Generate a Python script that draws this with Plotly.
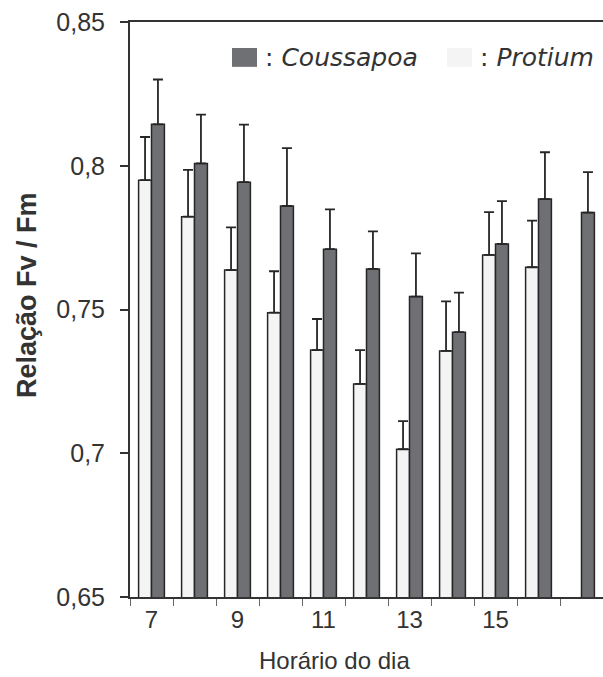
import plotly.graph_objects as go

hours = [7, 8, 9, 10, 11, 12, 13, 14, 15, 16, 17]
coussapoa = [0.8144, 0.8008, 0.7943, 0.7860, 0.7710, 0.7641, 0.7545, 0.7421, 0.7728, 0.7884, 0.7837]
coussapoa_err = [0.0156, 0.0170, 0.0200, 0.0201, 0.0138, 0.0131, 0.0150, 0.0138, 0.0149, 0.0163, 0.0141]
protium = [0.7950, 0.7823, 0.7637, 0.7489, 0.7359, 0.7241, 0.7014, 0.7356, 0.7690, 0.7647, None]
protium_err = [0.0150, 0.0163, 0.0149, 0.0144, 0.0108, 0.0118, 0.0098, 0.0172, 0.0149, 0.0162, 0]
tick_labels = ["7", "9", "11", "13", "15"]
tick_hours = [7, 9, 11, 13, 15]

line_col = "#262626"
txt_col = "#333333"
c_dark = "#6f7073"
c_light = "#f4f4f4"

fig = go.Figure()
fig.add_trace(go.Bar(
    x=hours, y=protium, name="Protium", showlegend=False,
    marker=dict(color=c_light, line=dict(color=line_col, width=1.5)),
    error_y=dict(type="data", symmetric=False, array=protium_err,
                 arrayminus=[0] * len(protium_err), color=line_col,
                 thickness=1.8, width=5),
))
fig.add_trace(go.Bar(
    x=hours, y=coussapoa, name="Coussapoa", showlegend=False,
    marker=dict(color=c_dark, line=dict(color=line_col, width=1.5)),
    error_y=dict(type="data", symmetric=False, array=coussapoa_err,
                 arrayminus=[0] * len(coussapoa_err), color=line_col,
                 thickness=1.8, width=5),
))

# legend drawn as key boxes + labels inside the plot area
legend_items = [(0.2156, 0.2685, c_dark, ": <i>Coussapoa</i>"),
                (0.6702, 0.7230, c_light, ": <i>Protium</i>")]
for x0, x1, col, label in legend_items:
    fig.add_shape(type="rect", xref="paper", yref="paper", x0=x0, x1=x1,
                  y0=0.922, y1=0.9548, fillcolor=col, line=dict(width=0))
    fig.add_annotation(xref="paper", yref="paper", x=x1 + 0.012, y=0.9385,
                       xanchor="left", yanchor="middle", showarrow=False,
                       text=label,
                       font=dict(family="DejaVu Sans", size=25, color=txt_col))

# axis titles
fig.add_annotation(xref="paper", yref="paper", x=0.433, y=-0.111,
                   xanchor="center", yanchor="middle", showarrow=False,
                   text="Horário do dia",
                   font=dict(family="Liberation Sans", size=24, color=txt_col))
fig.add_annotation(xref="paper", yref="paper", x=-0.218, y=0.525,
                   xanchor="center", yanchor="middle", showarrow=False,
                   textangle=-90, text="<b>Relação Fv / Fm</b>",
                   font=dict(family="Liberation Sans", size=27, color=txt_col))

fig.update_layout(
    width=603, height=677,
    margin=dict(l=130, r=0, t=22, b=80),
    paper_bgcolor="white", plot_bgcolor="white",
    barmode="group", bargap=0.4, bargroupgap=0,
    separators=",.",
    showlegend=False,
    font=dict(family="Liberation Sans", color=txt_col),
)
fig.update_xaxes(
    range=[6.5, 17.5], tickmode="array", tickvals=tick_hours, ticktext=tick_labels,
    ticks="", showline=True, linecolor="#333333", linewidth=2, mirror=True,
    showgrid=False, zeroline=False,
    minor=dict(ticks="outside", tick0=6.5, dtick=1, ticklen=7, tickcolor="#666666", showgrid=False),
    tickfont=dict(size=24, color=txt_col),
)
fig.update_yaxes(
    range=[0.65, 0.85], tickmode="linear", tick0=0.65, dtick=0.05,
    ticks="outside", ticklen=8, tickcolor="#333333", tickwidth=1.5,
    ticklabelstandoff=10,
    showline=True, linecolor="#333333", linewidth=2,
    showgrid=False, zeroline=False,
    tickfont=dict(size=25, color=txt_col),
)

fig.write_html("out.html", config={"displayModeBar": False},
               post_script="document.body.style.margin='0';")
